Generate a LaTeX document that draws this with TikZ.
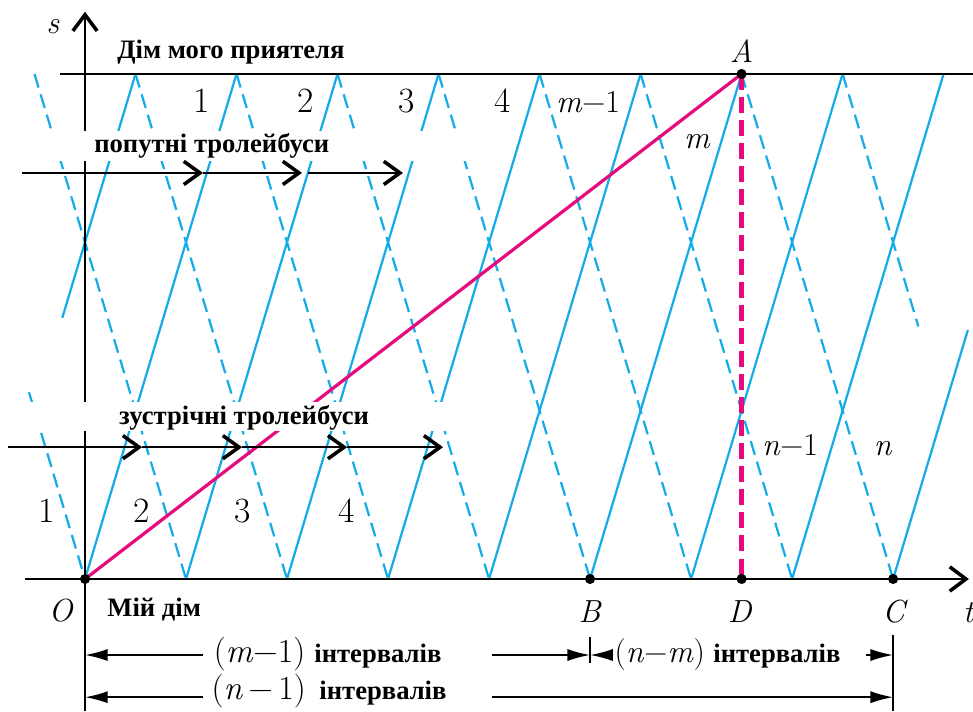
\documentclass[tikz,border=0pt]{standalone}
\usepackage{fontspec}
\newfontfamily\ukr{Liberation Serif}
\usetikzlibrary{arrows.meta}
\definecolor{busblue}{RGB}{20,172,232}
\definecolor{walkpink}{RGB}{230,10,125}
\newcommand\iv[1]{\textit{#1}}

\begin{document}
\begin{tikzpicture}[
    fwdbus/.style={draw=busblue, line width=1.25pt},
    bwdbus/.style={fwdbus, dash pattern=on 8pt off 4pt},
    axisline/.style={line width=1.5pt},
    flow/.style={line width=1.3pt, -{Straight Barb[length=3.2mm, width=4.6mm, line width=2pt]}},
    dim/.style={line width=1pt, -{Latex[length=4.5mm, width=2.4mm]}},
    ukrlbl/.style={font=\ukr\bfseries\fontsize{15}{17}\selectfont, inner sep=0pt, anchor=base},
    num/.style={font=\fontsize{20}{22}\selectfont, inner sep=0pt, anchor=base},
    mlbl/.style={font=\fontsize{18}{20}\selectfont, inner sep=0pt, anchor=base},
    dot/.style={circle, fill, inner sep=0pt, minimum size=2mm},
  ]
  \useasboundingbox (-1.683,-2.614) rectangle (17.582,11.464);

  % Trolleybuses towards the friend (solid) and back home (dashed)
  \draw[fwdbus] (-0.45,5.17) -- (1,10);
  \foreach \x in {0,2,...,14} {
    \draw[fwdbus] (\x,0) -- ++(3,10);
  }
  \draw[fwdbus] (16,0) -- (17.48,4.93);
  \draw[bwdbus] (-1.11,3.7) -- (0,0);
  \foreach \x in {-1,1,...,13} {
    \draw[bwdbus] (\x,10) -- ++(3,-10);
  }
  \draw[bwdbus] (15,10) -- (16.5,5);

  % Axes and the friend's house
  \draw[axisline] (-0.5,10) -- (17.6,10);
  \draw[axisline, -{Straight Barb[length=3.2mm, width=4.8mm, line width=2pt]}] (0,-2.62) -- (0,11.23);
  \draw[axisline, -{Straight Barb[length=3.2mm, width=4.8mm, line width=2pt]}] (-1.19,0) -- (17.5,0);

  \coordinate (O) at (0,0);
  \coordinate (B) at (10,0);
  \coordinate (D) at (13,0);
  \coordinate (C) at (16,0);
  \coordinate (A) at (13,10);

  % My walk
  \draw[walkpink, line width=1.8pt] (O) -- (A);
  \draw[walkpink, line width=2.6pt, dash pattern=on 9pt off 4pt] (A) -- (D);

  % White strips behind the captions
  \fill[white] (-1.39,8.28) rectangle (7.82,8.87);
  \fill[white] (-1.5,2.93) rectangle (7.8,3.5);

  \node[ukrlbl] (friend) at (2.89,10.30) {Дім мого приятеля};
  \node[ukrlbl] (same) at (2.51,8.45) {попутні тролейбуси};
  \node[ukrlbl] (oncoming) at (3.15,3.05) {зустрічні тролейбуси};
  \node[ukrlbl] (home) at (1.37,-0.75) {Мій дім};

  \draw[flow] (-1.247,8.04) -- (2.336,8.04);
  \draw[flow] (2.336,8.04) -- (4.297,8.04);
  \draw[flow] (4.415,8.04) -- (6.296,8.04);
  \draw[flow] (-1.52,2.61) -- (1.13,2.61);
  \draw[flow] (1.13,2.61) -- (3.11,2.61);
  \draw[flow] (3.11,2.61) -- (5.19,2.61);
  \draw[flow] (5.19,2.61) -- (7.09,2.61);

  % Bus numbers
  \foreach \n/\x in {1/2.317, 2/4.376, 3/6.376, 4/8.276} {
    \node[num] (up\n) at (\x,9.23) {\n};
  }
  \node[mlbl] (upm1) at (9.96,9.23) {\iv{m}−1};
  \node[mlbl] (upm) at (12.12,8.53) {\iv{m}};
  \foreach \n/\x in {1/-0.75, 2/1.13, 3/3.13, 4/5.19} {
    \node[num] (low\n) at (\x,1.11) {\n};
  }
  \node[mlbl] (lown1) at (13.96,2.455) {\iv{n}−1};
  \node[mlbl] (lown) at (15.80,2.455) {\iv{n}};

  % Axis letters
  \node[mlbl] (slbl) at (-0.634,10.81) {\iv{s}};
  \node[mlbl] (tlbl) at (17.5,-0.87) {\iv{t}};
  \node[mlbl] (Olbl) at (-0.475,-0.85) {\iv{O}};
  \node[mlbl] (Blbl) at (10,-0.87) {\iv{B}};
  \node[mlbl] (Dlbl) at (12.97,-0.87) {\iv{D}};
  \node[mlbl] (Clbl) at (16.04,-0.87) {\iv{C}};
  \node[mlbl] (Albl) at (13.0,10.22) {\iv{A}};

  % Intervals
  \node[mlbl, font=\fontsize{19}{21}\selectfont] (mm1) at (3.455,-1.663) {(\iv{m}−1)};
  \node[ukrlbl] (int1) at (5.80,-1.663) {інтервалів};
  \node[mlbl] (nm) at (11.38,-1.663) {(\iv{n}−\iv{m})};
  \node[ukrlbl] (int2) at (13.70,-1.663) {інтервалів};
  \node[mlbl, font=\fontsize{19}{21}\selectfont] (nn1) at (3.44,-2.376) {(\iv{n}\,−\,1)};
  \node[ukrlbl] (int3) at (5.90,-2.376) {інтервалів};

  \draw[dim] (2.34,-1.505) -- (0,-1.505);
  \draw[dim] (8.06,-1.505) -- (10,-1.505);
  \draw[line width=1pt] (10,-1.15) -- (10,-1.66);
  \draw[dim] (10.45,-1.505) -- (10,-1.505);
  \draw[dim] (15.46,-1.505) -- (16,-1.505);
  \draw[dim] (2.34,-2.34) -- (0,-2.34);
  \draw[dim] (8.06,-2.34) -- (16,-2.34);
  \draw[line width=1pt] (16,-1.11) -- (16,-2.62);

  \foreach \p in {O,B,D,C,A} {
    \node[dot] at (\p) {};
  }
\end{tikzpicture}
\end{document}
